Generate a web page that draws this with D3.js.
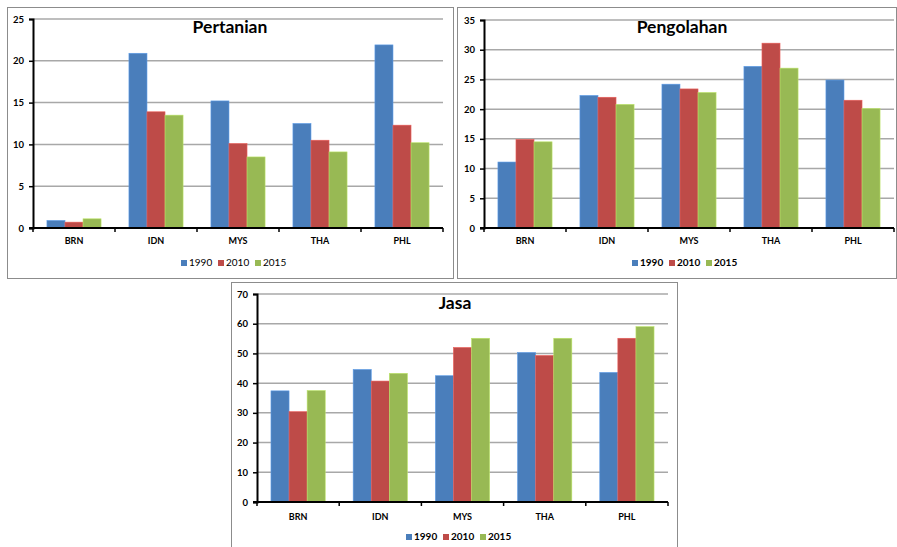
<!DOCTYPE html>
<html><head><meta charset="utf-8">
<script src="https://cdn.jsdelivr.net/npm/d3@7"></script>
<style>body{margin:0;background:#fff}svg{display:block}text{font-family:Lato,"Open Sans",sans-serif}</style>
</head><body><svg id="c" width="897" height="547"></svg>
<script>
const categories = ["BRN","IDN","MYS","THA","PHL"];
const seriesNames = ["1990","2010","2015"];
const colors = ["#4a7ebb","#be4b48","#98b954"];
const pertanian = [[0.9,20.9,15.2,12.5,21.9],[0.7,13.9,10.1,10.5,12.3],[1.1,13.5,8.5,9.1,10.2]];
const pengolahan = [[11.1,22.3,24.2,27.2,24.9],[14.9,22.0,23.4,31.1,21.5],[14.5,20.8,22.8,26.9,20.1]];
const jasa = [[37.4,44.6,42.5,50.3,43.6],[30.4,40.7,52.0,49.3,55.1],[37.5,43.3,55.1,55.1,59.0]];
const ticks1 = [0,5,10,15,20,25];
const ticks2 = [0,5,10,15,20,25,30,35];
const ticks3 = [0,10,20,30,40,50,60,70];

const svg = d3.select("#c");

function panel(o){
  const g = svg.append("g");
  g.append("rect").attr("x",o.fx0+0.5).attr("y",o.fy0+0.5).attr("width",o.fx1-o.fx0).attr("height",o.fy1-o.fy0)
    .attr("fill","#fff").attr("stroke","#8c8c8c").attr("stroke-width",1);
  const y = d3.scaleLinear().domain([0,o.ticks[o.ticks.length-1]]).range([o.bottom,o.top]);
  const x0 = d3.scaleBand().domain(categories).range([o.left,o.right]).paddingInner(0.34).paddingOuter(0.17);
  const x1 = d3.scaleBand().domain(seriesNames).range([0,x0.bandwidth()]);
  // gridlines
  g.append("g").selectAll("line").data(o.ticks.slice(1)).join("line")
    .attr("x1",o.left).attr("x2",o.right).attr("y1",d=>y(d)).attr("y2",d=>y(d))
    .attr("stroke","#a8a8a8").attr("stroke-width",1.5);
  // bars
  seriesNames.forEach((s,si)=>{
    g.append("g").selectAll("rect").data(o.data[si]).join("rect")
      .attr("x",(d,i)=>x0(categories[i])+x1(s)).attr("width",x1.bandwidth())
      .attr("y",d=>y(d)).attr("height",d=>o.bottom-y(d))
      .attr("fill",colors[si]).attr("stroke",d3.color(colors[si]).brighter(0.6)).attr("stroke-width",0.6);
  });
  // y axis
  const ya = d3.axisLeft(y).tickValues(o.ticks).tickSize(4).tickPadding(5);
  const yg = g.append("g").attr("transform",`translate(${o.left},0)`).call(ya);
  yg.select(".domain").attr("stroke","#000").attr("stroke-width",2);
  yg.selectAll(".tick line").attr("stroke","#000").attr("stroke-width",1.5);
  yg.selectAll("text").attr("font-size",9.5).attr("font-weight","bold").attr("fill","#000").attr("font-family","Lato");
  // x axis
  const step = (o.right-o.left)/categories.length;
  g.append("line").attr("x1",o.left-4).attr("x2",o.right).attr("y1",o.bottom).attr("y2",o.bottom).attr("stroke","#000").attr("stroke-width",2);
  g.append("g").selectAll("line").data(d3.range(categories.length+1)).join("line")
    .attr("x1",i=>o.left+i*step).attr("x2",i=>o.left+i*step).attr("y1",o.bottom).attr("y2",o.bottom+4)
    .attr("stroke","#000").attr("stroke-width",1.5);
  g.append("g").selectAll("text").data(categories).join("text")
    .attr("x",d=>x0(d)+x0.bandwidth()/2).attr("y",o.catY).attr("text-anchor","middle")
    .attr("font-size",9).attr("font-weight","bold").text(d=>d);
  // title
  g.append("text").attr("x",o.tx).attr("y",o.ty).attr("text-anchor","middle")
    .attr("font-size",17.5).attr("font-weight","bold").text(o.title);
  // legend
  const lg = g.append("g");
  let lx = o.lx;
  seriesNames.forEach((s,si)=>{
    lg.append("rect").attr("x",lx).attr("y",o.ly-6).attr("width",6).attr("height",6).attr("fill",colors[si]);
    lg.append("text").attr("x",lx+8).attr("y",o.ly).attr("font-size",10)
      .attr("font-weight",o.lbold?"bold":"normal").text(s);
    lx += 37;
  });
}

panel({data:pertanian,ticks:ticks1,title:"Pertanian",fx0:7,fx1:453,fy0:7,fy1:278,
  left:33,right:443,top:19,bottom:228,tx:230,ty:33,catY:244,lx:181,ly:266,lbold:false});
panel({data:pengolahan,ticks:ticks2,title:"Pengolahan",fx0:457,fx1:896,fy0:7,fy1:278,
  left:484,right:894,top:20,bottom:228,tx:682,ty:33,catY:244,lx:632,ly:266,lbold:true});
panel({data:jasa,ticks:ticks3,title:"Jasa",fx0:231,fx1:677,fy0:282,fy1:560,
  left:257,right:668,top:294,bottom:502,tx:455,ty:309,catY:520,lx:406,ly:540,lbold:true});
</script></body></html>
